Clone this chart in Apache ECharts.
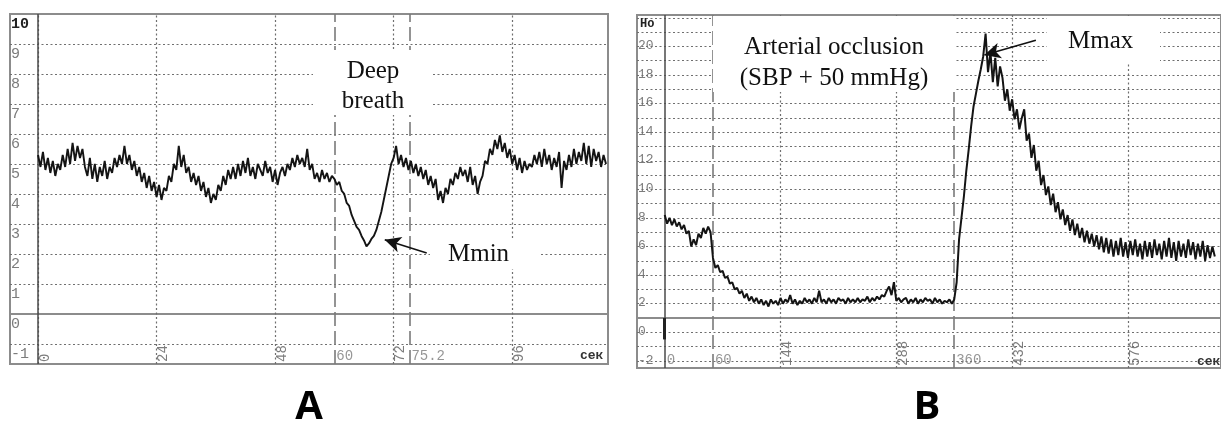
<!DOCTYPE html>
<html>
<head>
<meta charset="utf-8">
<title>Microcirculation traces A / B</title>
<script src="https://cdn.jsdelivr.net/npm/echarts@6/dist/echarts.min.js"></script>
<style>
  html, body { margin: 0; padding: 0; background: #fff; }
  #chart { width: 1221px; height: 423px; }
</style>
</head>
<body>
<div id="chart"></div>
<script>
// ---- panel A : deep breath test, one sample every 0.5 s
const stepA = 0.5;
const signalA = [
  5.3, 4.9, 5.4, 4.8, 5.2, 4.7, 5.1, 4.6, 5.0, 4.8, 5.3, 4.9, 5.5, 5.0, 5.7, 5.1, 5.6, 5.2, 5.5, 4.9,
  4.6, 5.2, 4.5, 5.0, 4.4, 4.9, 4.6, 5.1, 4.5, 4.9, 4.7, 5.2, 4.9, 5.3, 5.0, 5.6, 5.0, 5.3, 4.8, 5.1,
  4.6, 4.9, 4.4, 4.7, 4.2, 4.6, 4.1, 4.4, 3.9, 4.3, 3.8, 4.2, 4.1, 4.6, 4.4, 5.0, 4.8, 5.6, 4.9, 5.3,
  4.7, 4.9, 4.4, 4.7, 4.3, 4.6, 4.1, 4.4, 3.9, 4.2, 3.7, 4.0, 3.8, 4.3, 4.1, 4.6, 4.3, 4.8, 4.5, 4.9,
  4.5, 5.0, 4.6, 5.1, 4.7, 5.2, 4.6, 4.9, 4.5, 5.0, 4.8, 4.6, 5.1, 4.7, 4.9, 4.4, 4.8, 4.3, 4.7, 4.9,
  4.6, 5.0, 4.8, 5.2, 4.9, 5.3, 5.0, 5.2, 4.9, 5.5, 4.8, 5.0, 4.5, 4.7, 4.4, 4.8, 4.5, 4.7, 4.4, 4.6,
  4.5, 4.3, 4.4, 4.1, 4.0, 3.7, 3.6, 3.3, 3.1, 2.9, 2.8, 2.6, 2.45, 2.25, 2.35, 2.5, 2.6, 2.8, 3.1, 3.4,
  3.8, 4.2, 4.6, 5.0, 5.2, 5.6, 5.0, 5.3, 4.9, 5.2, 4.8, 5.1, 4.7, 5.0, 4.6, 4.9, 4.5, 4.8, 4.3, 4.6,
  4.2, 4.5, 3.8, 4.1, 3.7, 4.2, 4.0, 4.5, 4.3, 4.7, 4.5, 4.9, 4.6, 4.8, 4.4, 4.9, 4.3, 4.6, 4.0, 4.4,
  4.6, 5.1, 5.0, 5.5, 5.3, 5.8, 5.5, 5.95, 5.4, 5.7, 5.2, 5.5, 5.0, 5.3, 4.8, 5.2, 4.7, 5.1, 4.8, 5.0,
  4.9, 5.3, 5.0, 5.4, 4.9, 5.5, 5.0, 5.3, 4.8, 5.2, 4.9, 5.4, 4.2, 5.1, 4.8, 5.3, 4.9, 5.5, 5.0, 5.4,
  5.1, 5.7, 5.0, 5.6, 4.9, 5.5, 5.1, 5.4, 4.9, 5.3, 5.0
];
const yTicksA = [-1, 0, 1, 2, 3, 4, 5, 6, 7, 8, 9, 10];
const yGridA = [-1, 1, 2, 3, 4, 5, 6, 7, 8, 9];
const xTicksA = [0, 24, 48, 72, 96];
const eventsA = [60, 75.2];

// ---- panel B : arterial occlusion test, one sample every 3 s
const stepB = 3;
const signalB = [
  7.2, 6.6, 7.0, 6.5, 6.9, 6.4, 6.7, 6.2, 6.5, 5.9, 6.1, 5.0, 5.5, 5.1, 5.9, 5.6, 6.3, 5.9, 6.4, 6.0,
  4.2, 3.5, 3.7, 3.2, 3.3, 2.8, 2.9, 2.4, 2.5, 2.0, 2.1, 1.7, 1.9, 1.4, 1.7, 1.2, 1.5, 1.1, 1.4, 1.0,
  1.3, 0.9, 1.2, 0.8, 1.3, 1.0, 1.2, 0.9, 1.4, 1.0, 1.3, 1.1, 1.6, 1.0, 1.3, 0.9, 1.2, 1.0, 1.4, 1.1,
  1.3, 1.0, 1.4, 1.1, 1.9, 1.1, 1.3, 1.0, 1.4, 1.1, 1.3, 1.0, 1.4, 1.2, 1.3, 1.0, 1.4, 1.1, 1.3, 1.1,
  1.4, 1.1, 1.3, 1.2, 1.5, 1.1, 1.4, 1.2, 1.5, 1.3, 1.6, 1.5, 1.9, 2.2, 1.6, 2.5, 1.2, 1.4, 1.1, 1.3,
  1.4, 1.0, 1.3, 1.1, 1.4, 1.0, 1.3, 1.1, 1.4, 1.2, 1.3, 1.0, 1.4, 1.1, 1.3, 1.0, 1.2, 1.1, 1.3, 1.0,
  1.3, 2.5, 5.5, 7.0, 8.5, 10.3, 11.8, 13.4, 14.8, 15.7, 16.6, 17.4, 18.3, 19.9, 17.2, 18.6, 16.5, 18.2, 16.2, 17.6,
  16.8, 15.2, 16.0, 14.5, 15.3, 13.9, 14.6, 13.2, 14.0, 14.6, 12.4, 12.9, 11.2, 12.1, 10.3, 11.0, 9.3, 10.0, 8.6, 9.2,
  7.9, 8.7, 7.4, 8.1, 6.9, 7.6, 6.5, 7.2, 6.1, 6.9, 5.8, 6.6, 5.6, 6.3, 5.3, 6.1, 5.2, 5.9, 5.0, 5.8,
  4.8, 5.7, 4.6, 5.6, 4.5, 5.5, 4.3, 5.4, 4.4, 5.6, 4.3, 5.3, 4.2, 5.4, 4.4, 5.5, 4.3, 5.2, 4.1, 5.4,
  4.3, 5.3, 4.2, 5.5, 4.4, 5.2, 4.1, 5.4, 4.3, 5.6, 4.2, 5.3, 4.0, 5.4, 4.3, 5.2, 4.2, 5.5, 4.4, 5.3,
  4.1, 5.2, 4.3, 5.4, 4.0, 5.1, 4.2, 5.0, 4.3
];
const yTicksB = [-2, 0, 2, 4, 6, 8, 10, 12, 14, 16, 18, 20];
const yGridB = [-3, -2, -1, 1, 2, 3, 4, 5, 6, 7, 8, 9, 10, 11, 12, 13, 14, 15, 16, 17, 18, 19, 20, 21];
const xTicksB = [144, 288, 432, 576];
const flatTicksB = [0, 60, 360];
const eventsB = [60, 360];

// axis extents (match the recorder frames)
const extA = { xMin: -5.67, xMax: 115.4, yMin: -1.67, yMax: 10 };
const extB = { xMin: -34.46, xMax: 691.7, yMin: -3.5, yMax: 21.2 };

const GRID_GREY = '#6f6f6f';
const FRAME_GREY = '#8c8c8c';
const mono = { fontFamily: 'Liberation Mono', color: '#7c7c7c' };
const serif = '25px "Liberation Serif"';

const dotted = { type: [2, 2.5], width: 1.2, color: GRID_GREY };
const dashed = { type: [14, 5], width: 1.6, color: '#7a7a7a' };

function gridLines(yGrid, xTicks, events) {
  const d = [];
  yGrid.forEach(v => d.push({ yAxis: v, lineStyle: dotted }));
  d.push({ yAxis: 0, lineStyle: { type: 'solid', width: 2, color: FRAME_GREY } });
  xTicks.forEach(v => d.push({ xAxis: v, lineStyle: dotted }));
  events.forEach(v => d.push({ xAxis: v, lineStyle: dashed }));
  d.push({ xAxis: 0, lineStyle: { type: 'solid', width: 1.5, color: '#4a4a4a' } });
  return d;
}

function xAxisOf(idx, ext, ticks) {
  return {
    gridIndex: idx, type: 'value', min: ext.xMin, max: ext.xMax,
    axisLine: { show: false }, axisTick: { show: false }, splitLine: { show: false },
    axisLabel: {
      inside: true, rotate: 90, customValues: ticks, margin: 2,
      align: 'left', verticalAlign: 'top', fontSize: 14, ...mono
    }
  };
}

function yAxisOf(idx, ext, ticks, size, pad) {
  return {
    gridIndex: idx, type: 'value', min: ext.yMin, max: ext.yMax,
    axisLine: { show: false }, axisTick: { show: false }, splitLine: { show: false },
    axisLabel: {
      inside: true, customValues: ticks, margin: 1, align: 'left', verticalAlign: 'top',
      padding: [pad, 0, 0, 0], fontSize: size, ...mono,
      formatter: v => (v === 10 && idx === 0 ? '{top|10}' : String(v)),
      rich: { top: { fontWeight: 'bold', color: '#222', fontSize: size, fontFamily: 'Liberation Mono' } }
    }
  };
}

function flatLabels(idx, ext, values) {
  return {
    type: 'scatter', xAxisIndex: idx, yAxisIndex: idx, silent: true, z: 4,
    data: values.map(v => [v, ext.yMin]),
    symbolSize: 0.1, itemStyle: { color: 'transparent' },
    label: {
      show: true, position: [2, -15], fontSize: 14, ...mono,
      formatter: p => String(p.value[0])
    }
  };
}

const chart = echarts.init(document.getElementById('chart'));

const option = {
  animation: false,
  backgroundColor: '#fff',
  grid: [
    { left: 10, top: 14, width: 598, height: 350, show: true, borderColor: FRAME_GREY, borderWidth: 2 },
    { left: 637, top: 15, width: 590, height: 353, show: true, borderColor: FRAME_GREY, borderWidth: 2 }
  ],
  xAxis: [xAxisOf(0, extA, xTicksA), xAxisOf(1, extB, xTicksB)],
  yAxis: [yAxisOf(0, extA, yTicksA, 15, 3), yAxisOf(1, extB, yTicksB, 13, 7)],
  series: [
    {
      name: 'gridA', type: 'line', xAxisIndex: 0, yAxisIndex: 0, data: [], silent: true,
      markLine: { z: 1, silent: true, symbol: ['none', 'none'], label: { show: false }, data: gridLines(yGridA, xTicksA, eventsA) }
    },
    {
      name: 'gridB', type: 'line', xAxisIndex: 1, yAxisIndex: 1, data: [], silent: true,
      markLine: {
        z: 1, silent: true, symbol: ['none', 'none'], label: { show: false },
        data: gridLines(yGridB, xTicksB, eventsB).concat([
          [{ coord: [0, 0], lineStyle: { color: '#222', width: 3, type: 'solid' } }, { coord: [0, -1.5] }]
        ])
      }
    },
    {
      name: 'A', type: 'line', xAxisIndex: 0, yAxisIndex: 0, z: 3, showSymbol: false,
      lineStyle: { color: '#141414', width: 1.9 },
      data: signalA.map((v, i) => [i * stepA, v])
    },
    {
      name: 'B', type: 'line', xAxisIndex: 1, yAxisIndex: 1, z: 3, showSymbol: false,
      lineStyle: { color: '#141414', width: 2 },
      data: signalB.map((v, i) => [i * stepB, v])
    },
    flatLabels(0, extA, eventsA),
    flatLabels(1, extB, flatTicksB),
    {
      name: 'arrowA', type: 'line', xAxisIndex: 0, yAxisIndex: 0, data: [], silent: true,
      markLine: {
        z: 10, silent: true, symbol: ['none', 'arrow'], symbolSize: [12, 16], label: { show: false },
        lineStyle: { color: '#111', width: 1.6, type: 'solid' },
        data: [[{ coord: [78.7, 2.03] }, { coord: [70.2, 2.47] }]]
      }
    },
    {
      name: 'arrowB', type: 'line', xAxisIndex: 1, yAxisIndex: 1, data: [], silent: true,
      markLine: {
        z: 10, silent: true, symbol: ['none', 'arrow'], symbolSize: [12, 16], label: { show: false },
        lineStyle: { color: '#111', width: 1.6, type: 'solid' },
        data: [[{ coord: [461.5, 19.44] }, { coord: [397.5, 18.4] }]]
      }
    }
  ],
  graphic: [
    // white boxes behind the annotations (they hide the grid)
    { type: 'rect', z: 20, shape: { x: 313, y: 50, width: 120, height: 65 }, style: { fill: '#fff' } },
    { type: 'rect', z: 20, shape: { x: 430, y: 238, width: 110, height: 31 }, style: { fill: '#fff' } },
    { type: 'rect', z: 20, shape: { x: 713, y: 16, width: 242, height: 76 }, style: { fill: '#fff' } },
    { type: 'rect', z: 20, shape: { x: 1047, y: 16, width: 113, height: 46 }, style: { fill: '#fff' } },
    { type: 'text', z: 21, x: 373, y: 86, style: { text: 'Deep\nbreath', font: serif, lineHeight: 30, fill: '#111', textAlign: 'center', textVerticalAlign: 'middle' } },
    { type: 'text', z: 21, x: 448, y: 254, style: { text: 'Mmin', font: serif, fill: '#111', textAlign: 'left', textVerticalAlign: 'middle' } },
    { type: 'text', z: 21, x: 834, y: 63, style: { text: 'Arterial occlusion\n(SBP + 50 mmHg)', font: serif, lineHeight: 31, fill: '#111', textAlign: 'center', textVerticalAlign: 'middle' } },
    { type: 'text', z: 21, x: 1068, y: 41, style: { text: 'Mmax', font: serif, fill: '#111', textAlign: 'left', textVerticalAlign: 'middle' } },
    { type: 'text', z: 21, x: 580, y: 349, style: { text: 'сек', font: 'bold 13px "Liberation Mono"', fill: '#333' } },
    { type: 'text', z: 21, x: 1197, y: 355, style: { text: 'сек', font: 'bold 13px "Liberation Mono"', fill: '#333' } },
    { type: 'text', z: 21, x: 640, y: 18, style: { text: 'Ho', font: 'bold 12px "Liberation Mono"', fill: '#222' } },
    { type: 'text', z: 21, x: 309, y: 408, style: { text: 'A', font: 'bold 40px "Open Sans"', fill: '#000', textAlign: 'center', textVerticalAlign: 'middle' } },
    { type: 'text', z: 21, x: 927, y: 408, style: { text: 'B', font: 'bold 40px "Open Sans"', fill: '#000', textAlign: 'center', textVerticalAlign: 'middle' } }
  ]
};

chart.setOption(option);
window.addEventListener('resize', () => chart.resize());
</script>
</body>
</html>
